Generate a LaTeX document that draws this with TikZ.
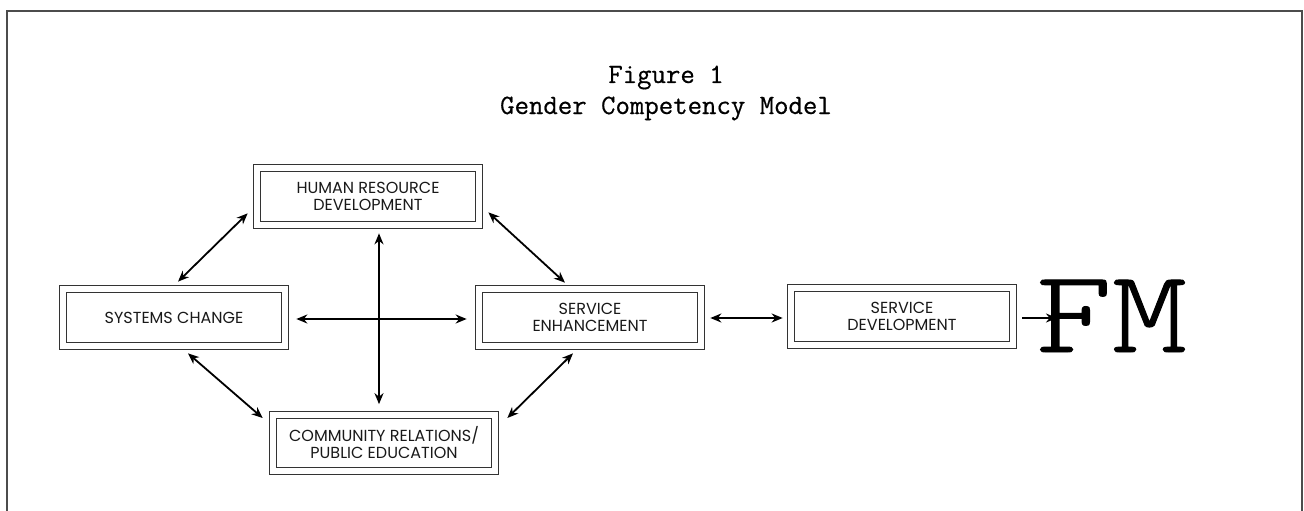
\documentclass[tikz,border=0pt]{standalone}
\usepackage{fontspec}
\setmainfont{Liberation Serif}
\newfontfamily\boxfont{Poppins}
\newfontfamily\titlefont{Latin Modern Mono}[FakeBold=0.5]
\newfontfamily\lightmono{Latin Modern Mono Light}[FakeBold=0.8]
\usetikzlibrary{arrows.meta,calc}

\tikzset{
  frameline/.style={draw=black!70, line width=1.5pt},
  modelbox/.style={draw=black!80, double, double distance=6pt, line width=1.1pt,
    minimum width=221.6pt, minimum height=56.6pt, inner sep=0pt,
    align=center, font=\boxfont\fontsize{16}{17}\selectfont, text=black!90},
  link/.style={line width=1.8pt, {Stealth[length=11pt,width=9pt,inset=3.5pt]}-{Stealth[length=11pt,width=9pt,inset=3.5pt]}},
  onelink/.style={line width=1.8pt, -{Stealth[length=11pt,width=9pt,inset=3.5pt]}},
  titletext/.style={font=\titlefont\fontsize{28}{31}\selectfont, inner sep=0pt, anchor=base},
}

\begin{document}
\begin{tikzpicture}[x=1pt, y=-1pt]
  \useasboundingbox (0,0) rectangle (1304,511);
  % page frame, open at the bottom edge
  \draw[frameline] (7,511) -- (7,11) -- (1302,11) -- (1302,511);

  % heading
  \node[titletext] (t1) at (666,83) {Figure 1};
  \node[titletext] (t2) at (666,114) {Gender Competency Model};

  % model components
  \node[modelbox] (hrd) at (368,196.5) {HUMAN RESOURCE\\DEVELOPMENT};
  \node[modelbox] (sc)  at (174,317.5) {SYSTEMS CHANGE};
  \node[modelbox] (se)  at (590,317.5) {SERVICE\\ENHANCEMENT};
  \node[modelbox] (sd)  at (902,316.5) {SERVICE\\DEVELOPMENT};
  \node[modelbox] (cr)  at (384,443)   {COMMUNITY RELATIONS/\\PUBLIC EDUCATION};

  % large lettering
  \node[inner sep=0pt, anchor=base west] (fm) at (1036,352)
    {\scalebox{1.22}[1]{\lightmono\fontsize{118}{118}\selectfont FM}};

  % connections
  \draw[link] ($(hrd.south west)+(-9,-12)$) -- ($(sc.north)+(4,-7)$);
  \draw[link] ($(hrd.south east)+(9,-13)$) -- ($(se.north)+(-25,-6)$);
  \draw[link] ($(sc.south)+(14,7)$) -- ($(cr.west)+(-10,-25)$);
  \draw[link] ($(cr.east)+(12,-25)$) -- ($(se.south)+(-17,7)$);
  \draw[link] ($(hrd.south)+(11,8)$) -- ($(cr.north)+(-5,-10)$);
  \draw[link] ($(sc.east)+(11,1.5)$) -- ($(se.west)+(-12,1.5)$);
  \draw[link] ($(se.east)+(9,0.5)$) -- ($(sd.west)+(-8,1.5)$);
  \draw[onelink] ($(sd.east)+(9,1.5)$) -- ($(fm.base west)+(21,-34)$);
\end{tikzpicture}
\end{document}
